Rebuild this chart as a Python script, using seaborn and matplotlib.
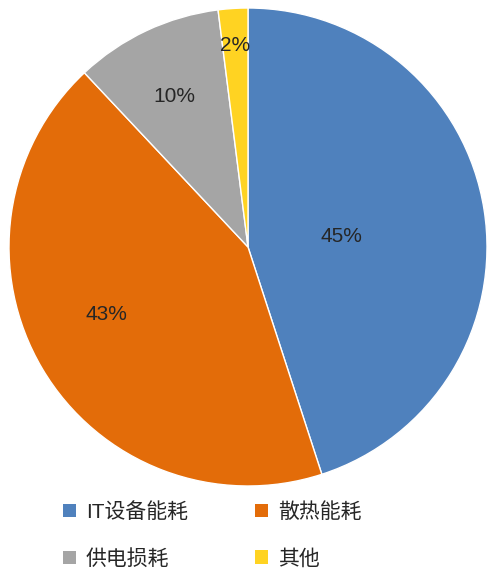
import matplotlib
matplotlib.use("Agg")
import matplotlib.pyplot as plt
import numpy as np
import seaborn as sns
from matplotlib.patches import Patch

categories = ["IT设备能耗", "散热能耗", "供电损耗", "其他"]
shares = [45, 43, 10, 2]
colors = ["#4F81BD", "#E36C09", "#A5A5A5", "#FFD322"]
# where each percentage label sits: polar radius (fraction) and angle (deg)
label_radius = [0.392, 0.656, 0.701, 0.843]
label_angle = [6.7, 205.5, 116.0, 93.7]

sns.set_theme(style="white")
plt.rcParams["font.family"] = ["Liberation Sans", "Noto Sans CJK SC", "DejaVu Sans"]

fig = plt.figure(figsize=(4.95, 5.75), dpi=100)
ax = fig.add_axes([9 / 495, 89 / 575, 478 / 495, 478 / 575])

palette = sns.color_palette(colors)
wedges, texts, autotexts = ax.pie(
    shares,
    colors=palette,
    startangle=90,
    counterclock=False,
    radius=1.0,
    autopct="%d%%",
    wedgeprops=dict(edgecolor="white", linewidth=1.0),
    textprops=dict(fontsize=15, color="#262626"),
)
for t, r, a in zip(autotexts, label_radius, label_angle):
    a = np.deg2rad(a)
    t.set_position((r * np.cos(a), r * np.sin(a)))
    t.set_ha("center")
    t.set_va("center")

ax.set_xlim(-1, 1)
ax.set_ylim(-1, 1)
ax.set_aspect("equal")
ax.axis("off")

# legend fills row by row: reorder for matplotlib's column-major layout
order = [0, 2, 1, 3]
handles = [Patch(facecolor=palette[i], edgecolor="none") for i in order]
labels = [categories[i] for i in order]
fig.legend(
    handles,
    labels,
    ncol=2,
    loc="center left",
    bbox_to_anchor=(0.089, 0.069),
    frameon=False,
    fontsize=15,
    handlelength=0.62,
    handleheight=0.62,
    handletextpad=0.48,
    columnspacing=3.25,
    labelspacing=1.3,
    labelcolor="#262626",
)

fig.savefig("out.png", dpi=100, facecolor="white")
